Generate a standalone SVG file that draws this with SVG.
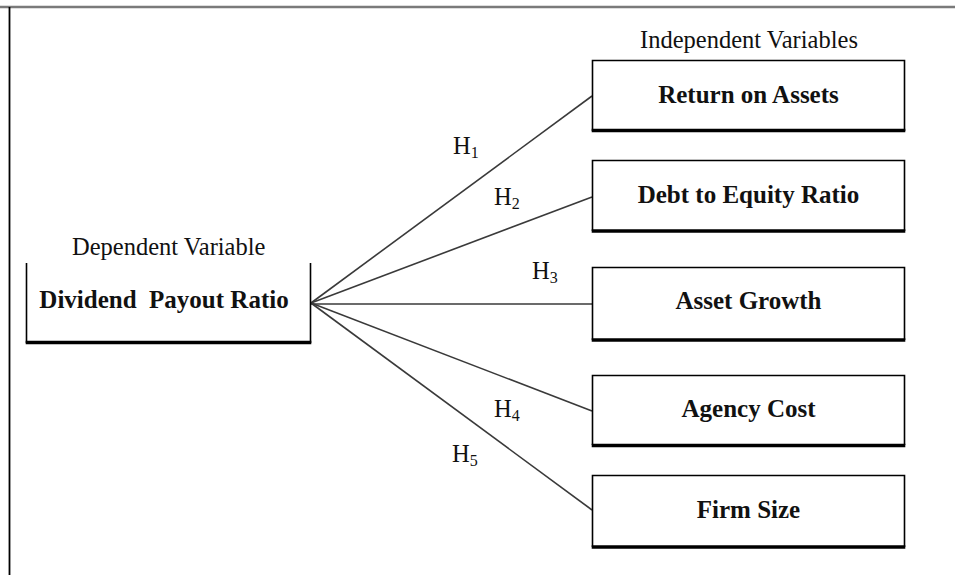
<svg xmlns="http://www.w3.org/2000/svg" width="955" height="575" viewBox="0 0 955 575">
<style>
.lbl{font-family:"Liberation Serif","Times New Roman",serif;font-size:24.5px;fill:#111}
.bx{font-family:"Liberation Serif","Times New Roman",serif;font-size:25px;font-weight:bold;fill:#111;text-anchor:middle}
.sub{font-size:16px}
.side{stroke:#000;stroke-width:1.6;fill:none}
.base{stroke:#000;stroke-width:3.5}
.conn{stroke:#3a3a3a;stroke-width:1.6;fill:none}
</style>
<rect width="955" height="575" fill="#fff"/>
<g id="frame">
<line x1="0" y1="7" x2="955" y2="7" stroke="#7a7a7a" stroke-width="2.5"/>
<line x1="9.5" y1="7" x2="9.5" y2="575" stroke="#000" stroke-width="1.8"/>
</g>
<text class="lbl" x="640" y="48">Independent Variables</text>
<text class="lbl" x="72" y="255">Dependent Variable</text>
<g id="connectors">
<line class="conn" x1="311" y1="303" x2="592" y2="96"/>
<line class="conn" x1="311" y1="303" x2="592" y2="197"/>
<line class="conn" x1="311" y1="304" x2="592" y2="304" stroke-width="2"/>
<line class="conn" x1="311" y1="303" x2="592" y2="411"/>
<line class="conn" x1="311" y1="303" x2="592" y2="510"/>
<text class="lbl" x="453" y="154">H<tspan class="sub" dy="4">1</tspan></text>
<text class="lbl" x="494" y="205">H<tspan class="sub" dy="4">2</tspan></text>
<text class="lbl" x="532" y="279">H<tspan class="sub" dy="4">3</tspan></text>
<text class="lbl" x="494" y="417">H<tspan class="sub" dy="4">4</tspan></text>
<text class="lbl" x="452" y="462">H<tspan class="sub" dy="4">5</tspan></text>
</g>
<g id="dividend">
<path class="side" d="M26.5 263 V343 M310.5 263 V343"/>
<line class="base" x1="25.7" y1="342.5" x2="311.3" y2="342.5"/>
<text class="bx" x="164" y="308" xml:space="preserve">Dividend  Payout Ratio</text>
</g>
<g id="roa">
<path class="side" d="M592.5 131 V60.5 H904.5 V131"/>
<line class="base" x1="591.7" y1="130.5" x2="905.3" y2="130.5"/>
<text class="bx" x="748.5" y="103">Return on Assets</text>
</g>
<g id="der">
<path class="side" d="M592.5 231 V160.5 H904.5 V231"/>
<line class="base" x1="591.7" y1="231" x2="905.3" y2="231"/>
<text class="bx" x="748.5" y="203">Debt to Equity Ratio</text>
</g>
<g id="ag">
<path class="side" d="M592.5 340 V267.5 H904.5 V340"/>
<line class="base" x1="591.7" y1="340" x2="905.3" y2="340"/>
<text class="bx" x="748.5" y="309">Asset Growth</text>
</g>
<g id="ac">
<path class="side" d="M592.5 445 V375.5 H904.5 V445"/>
<line class="base" x1="591.7" y1="445.5" x2="905.3" y2="445.5"/>
<text class="bx" x="748.5" y="417">Agency Cost</text>
</g>
<g id="fs">
<path class="side" d="M592.5 547 V475.5 H904.5 V547"/>
<line class="base" x1="591.7" y1="547" x2="905.3" y2="547"/>
<text class="bx" x="748.5" y="518">Firm Size</text>
</g>
</svg>
